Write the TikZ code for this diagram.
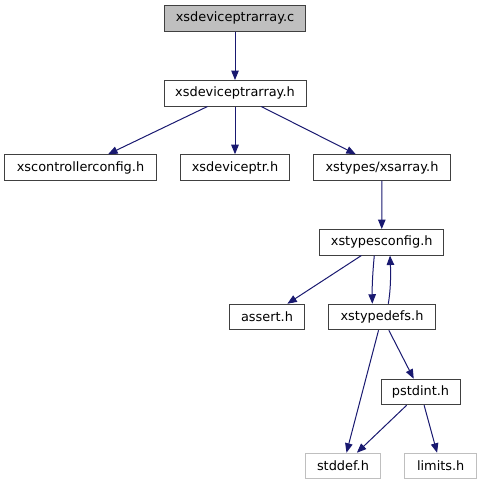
\documentclass[tikz,border=0pt]{standalone}
\usepackage{fontspec}
\setmainfont{DejaVu Sans}
\usetikzlibrary{arrows.meta,calc}
\definecolor{edgeblue}{HTML}{191970}
\definecolor{boxgray}{HTML}{404040}
\definecolor{lightgray}{HTML}{BFBFBF}
\begin{document}
\begin{tikzpicture}[x=1bp,y=-1bp,
  every node/.style={font=\fontsize{12.9bp}{15bp}\selectfont},
  filebox/.style={draw=boxgray, line width=1bp, fill=white, minimum height=25.5bp, inner sep=0pt, text=black},
  rootbox/.style={filebox, fill=lightgray},
  sysbox/.style={filebox, draw=lightgray},
  edge/.style={draw=edgeblue, line width=1bp, -{Triangle[length=9.5bp,width=7.5bp]}}]
\useasboundingbox (0,0) rectangle (481,485);
\node[rootbox, minimum width=141bp] (c) at (235,18.3) {xsdeviceptrarray.c};
\node[filebox, minimum width=142bp] (h) at (235,93.3) {xsdeviceptrarray.h};
\node[filebox, minimum width=151bp] (ctrl) at (80.5,167.5) {xscontrollerconfig.h};
\node[filebox, minimum width=109bp] (ptr) at (235,167.5) {xsdeviceptr.h};
\node[filebox, minimum width=137bp] (arr) at (382,167.5) {xstypes/xsarray.h};
\node[filebox, minimum width=124.5bp] (cfg) at (381.7,242.3) {xstypesconfig.h};
\node[filebox, minimum width=75bp] (as) at (267,317) {assert.h};
\node[filebox, minimum width=107bp] (td) at (382,317) {xstypedefs.h};
\node[filebox, minimum width=79bp] (ps) at (420.5,392) {pstdint.h};
\node[sysbox, minimum width=75bp] (sd) at (343,466) {stddef.h};
\node[sysbox, minimum width=71.5bp] (lm) at (440.7,466) {limits.h};
\draw[edge] (c) -- (h);
\draw[edge] (h) -- (ctrl);
\draw[edge] (h) -- (ptr);
\draw[edge] (h) -- (arr);
\draw[edge] (arr) -- (cfg);
\draw[edge] (cfg) -- (as);
\draw[edge] ($(cfg.south)+(-7.4,0)$) .. controls ($(cfg.south)+(-9,16)$) and ($(td.north)+(-10,-16)$) .. ($(td.north)+(-9.7,0)$);
\draw[edge] ($(td.north)+(6.3,0)$) .. controls ($(td.north)+(9,-16)$) and ($(cfg.south)+(9,16)$) .. ($(cfg.south)+(8.3,0)$);
\draw[edge] (td) -- (sd);
\draw[edge] (td) -- (ps);
\draw[edge] (ps) -- (sd);
\draw[edge] (ps) -- (lm);
\end{tikzpicture}
\end{document}
